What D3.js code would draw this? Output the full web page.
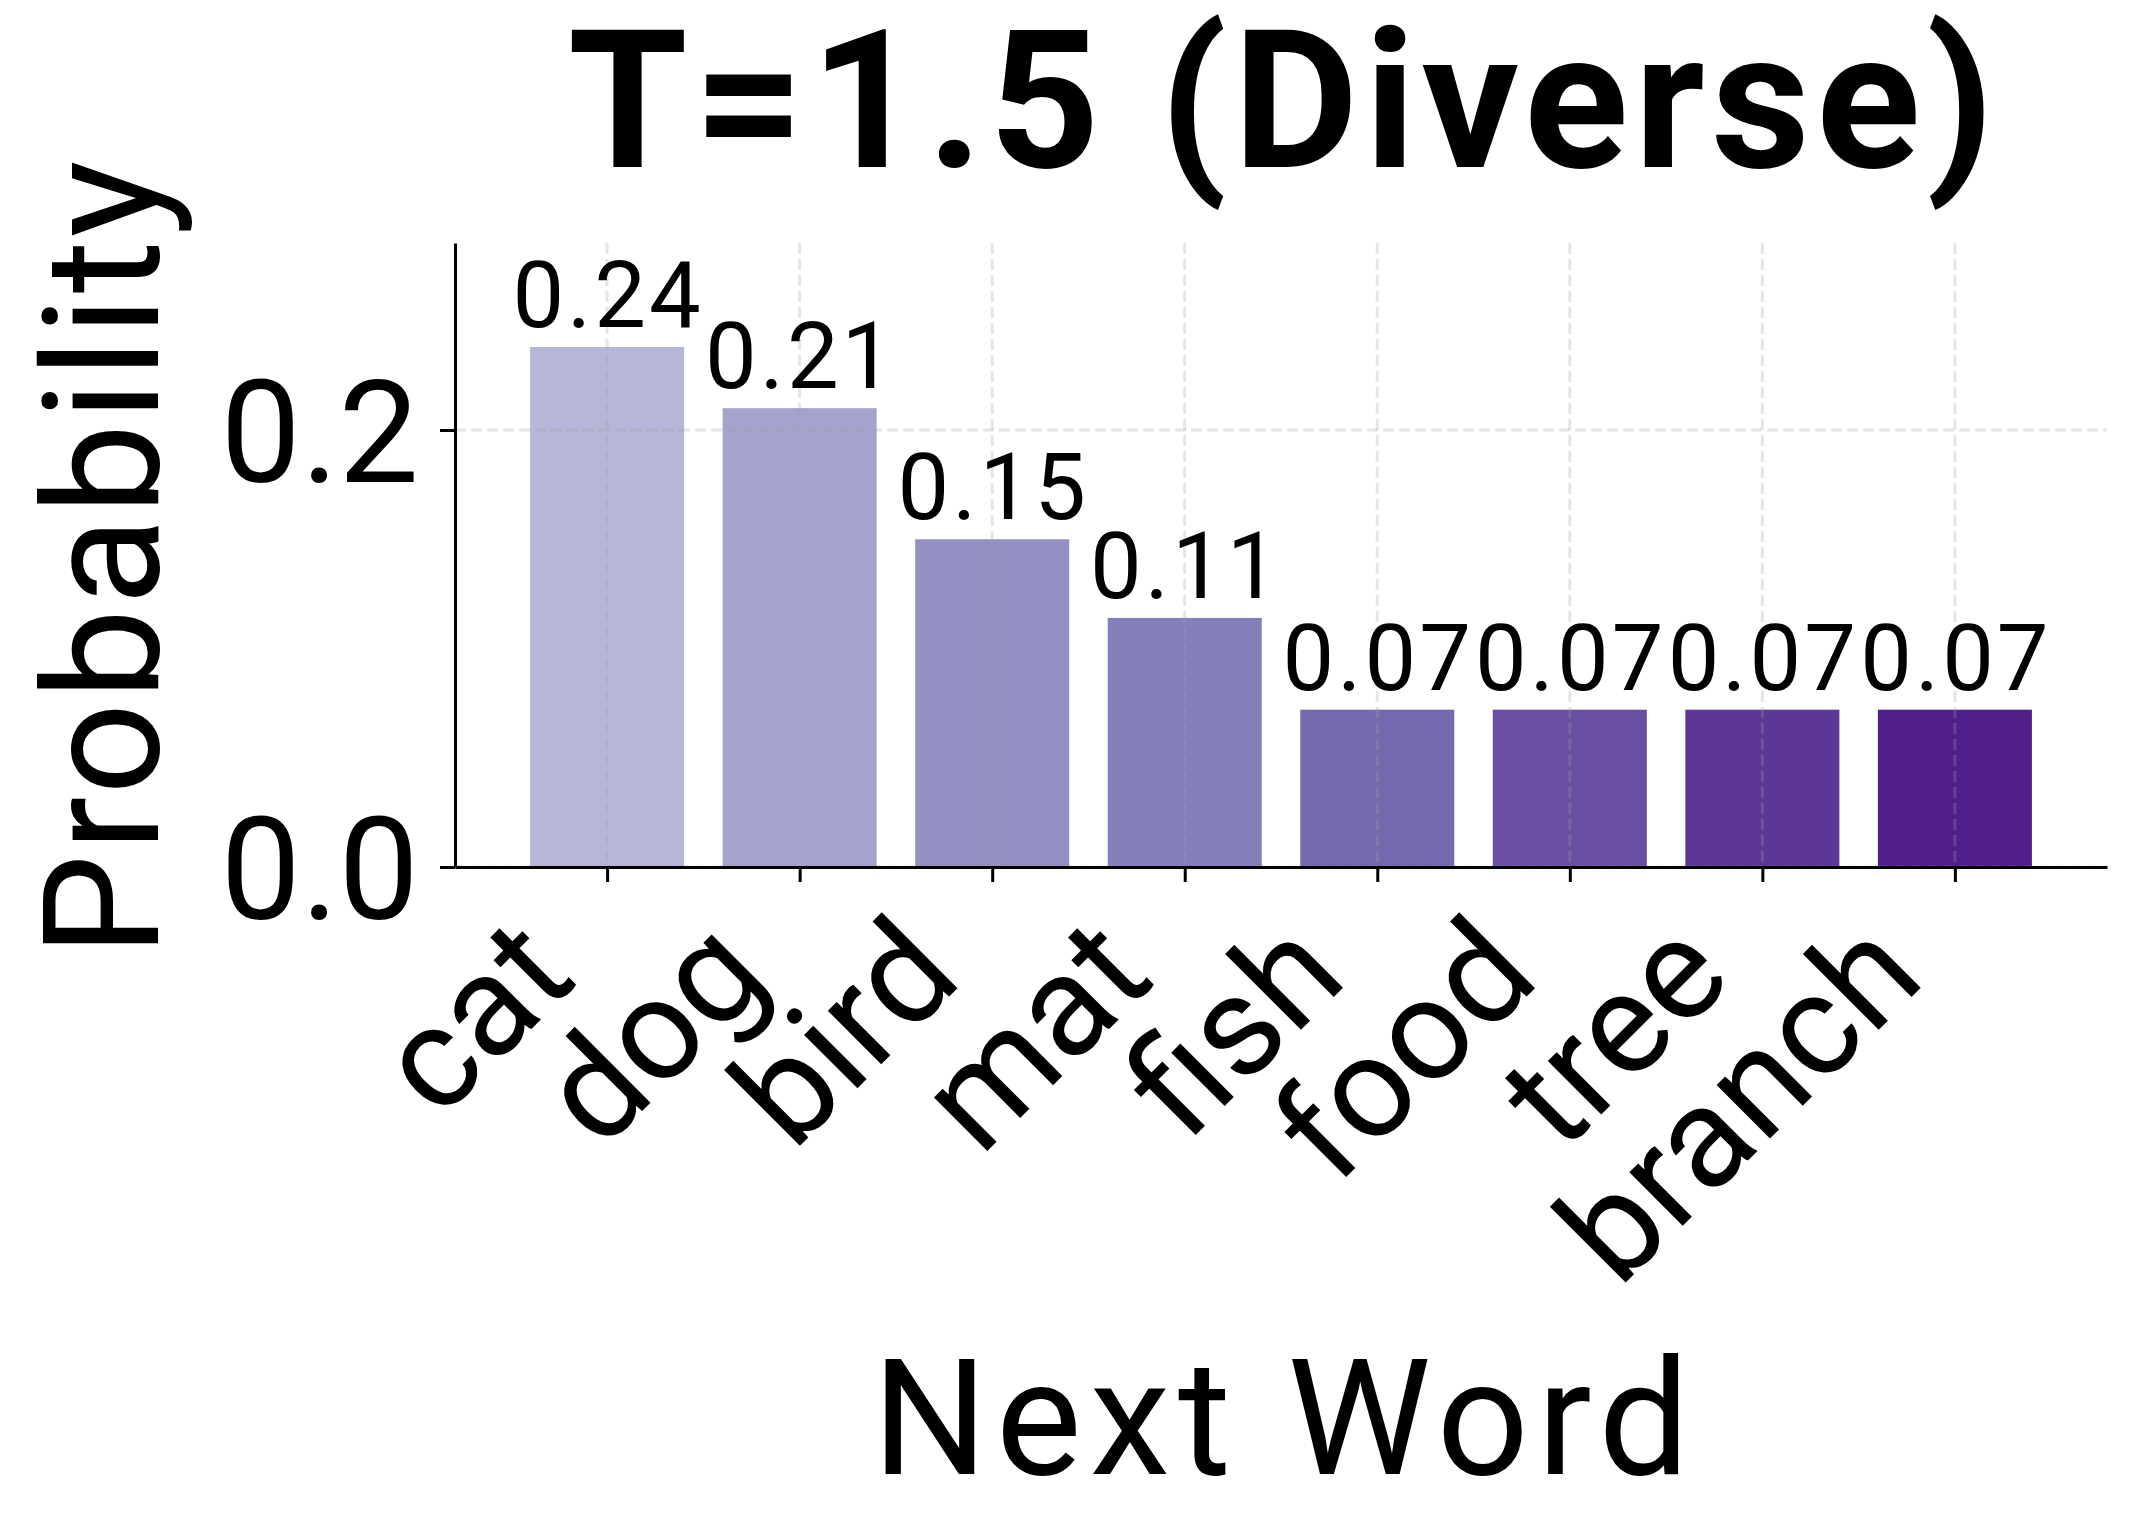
<!DOCTYPE html>
<html>
<head>
<meta charset="utf-8">
<script src="https://cdn.jsdelivr.net/npm/d3@7"></script>
<style>
  body { margin: 0; background: #ffffff; }
  svg { display: block; }
  text { font-family: Roboto, "Noto Sans", sans-serif; fill: #000; }
</style>
</head>
<body>
<div id="display"></div>
<script>
// ------- data ---------------------------------

var words = ["cat", "dog", "bird", "mat", "fish", "food", "tree", "branch"];
var probs = [0.238, 0.210, 0.150, 0.114, 0.072, 0.072, 0.072, 0.072];
var y_ticks = [0.0, 0.2];
var title_text = "T=1.5 (Diverse)";
var x_title = "Next Word";
var y_title = "Probability";

// Purples, sampled light to dark
var bar_colors = ["#b6b6d8", "#a5a2cd", "#9490c3", "#837fbb",
                  "#7568af", "#694fa2", "#5c3796", "#501f8b"];

// ------- setup -----------

var W = 2134, H = 1534;
// plot box (note: "top" is taken by window.top, so m_ prefix)
var m_left = 455, m_right = 2107, m_top = 243, m_bottom = 867;

var svg = d3.select("#display").append("svg")
  .attr("width", W)
  .attr("height", H);

var x = d3.scaleLinear()
  .domain([-0.4 - 0.39, words.length - 0.6 + 0.39])
  .range([m_left, m_right]);

var y = d3.scaleLinear()
  .domain([0, d3.max(probs) * 1.2])
  .range([m_bottom, m_top]);

var barw = 0.8;

// ------- bars -----------

svg.append("g").selectAll("rect")
  .data(probs)
  .enter().append("rect")
  .attr("x", function(d, i) { return x(i - barw / 2); })
  .attr("width", function(d, i) { return x(i + barw / 2) - x(i - barw / 2); })
  .attr("y", function(d) { return y(d); })
  .attr("height", function(d) { return y(0) - y(d); })
  .attr("fill", function(d, i) { return bar_colors[i]; });

// grid sits above the bars, like matplotlib's default
var grid = svg.append("g")
  .attr("stroke", "#a0a0a0")
  .attr("stroke-opacity", 0.28)
  .attr("stroke-width", 3)
  .attr("stroke-dasharray", "11,5");

grid.selectAll("line.v")
  .data(d3.range(words.length))
  .enter().append("line")
  .attr("x1", function(d) { return x(d); })
  .attr("x2", function(d) { return x(d); })
  .attr("y1", m_top)
  .attr("y2", m_bottom);

grid.selectAll("line.h")
  .data(y_ticks)
  .enter().append("line")
  .attr("x1", m_left)
  .attr("x2", m_right)
  .attr("y1", function(d) { return y(d); })
  .attr("y2", function(d) { return y(d); });

// value labels
var fmt = d3.format(".2f");
svg.append("g").selectAll("text")
  .data(probs)
  .enter().append("text")
  .attr("x", function(d, i) { return x(i) + 1; })
  .attr("y", function(d) { return y(d) - 20; })
  .attr("text-anchor", "middle")
  .style("font-size", "92px")
  .style("letter-spacing", "3px")
  .text(function(d) { return fmt(d); });

// ------- axes -----------

var xaxis = svg.append("g")
  .attr("transform", "translate(0," + m_bottom + ")")
  .call(d3.axisBottom(x)
    .tickValues(d3.range(words.length))
    .tickFormat(function(i) { return words[i]; })
    .tickSize(15)
    .tickSizeOuter(0));

xaxis.selectAll("text")
  .attr("text-anchor", "end")
  .attr("dy", null)
  .attr("y", 0)
  .attr("transform", "translate(-28,114) rotate(-45)")
  .style("font-size", "143px");

var yaxis = svg.append("g")
  .attr("transform", "translate(" + m_left + ",0)")
  .call(d3.axisLeft(y)
    .tickValues(y_ticks)
    .tickFormat(d3.format(".1f"))
    .tickSize(15)
    .tickSizeOuter(0));

yaxis.selectAll("text")
  .attr("x", -36)
  .attr("dy", "0.36em")
  .style("font-size", "143px");

svg.selectAll(".domain, .tick line")
  .attr("stroke", "#000")
  .attr("stroke-width", 3);

// ------- titles -----------

svg.append("text")
  .attr("x", (m_left + m_right) / 2 + 3)
  .attr("y", 167)
  .attr("text-anchor", "middle")
  .style("font-size", "193px")
  .style("font-weight", "bold")
  .style("letter-spacing", "6px")
  .text(title_text);

svg.append("text")
  .attr("x", (m_left + m_right) / 2 + 4)
  .attr("y", 1474)
  .attr("text-anchor", "middle")
  .style("font-size", "162px")
  .style("letter-spacing", "8px")
  .text(x_title);

svg.append("text")
  .attr("transform", "translate(158," + ((m_top + m_bottom) / 2 + 2) + ") rotate(-90)")
  .attr("text-anchor", "middle")
  .style("font-size", "162px")
  .style("letter-spacing", "3px")
  .text(y_title);
</script>
</body>
</html>
